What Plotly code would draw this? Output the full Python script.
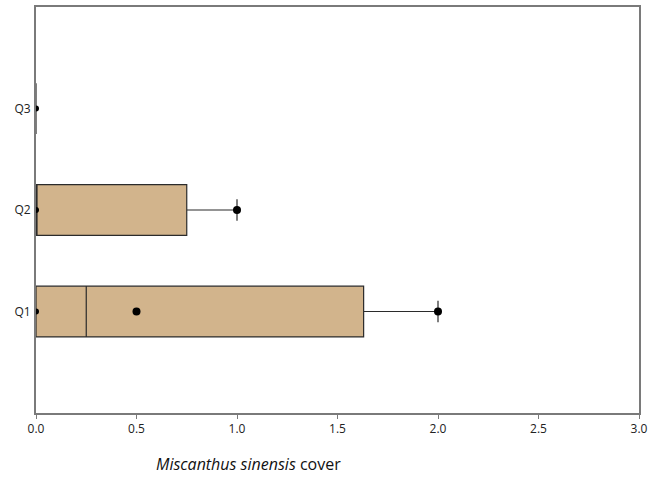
import plotly.graph_objects as go

categories = ["Q1", "Q2", "Q3"]
positions = [0, 1, 2]
q1 = [0.0, 0.0, 0.0]
median = [0.25, 0.0, 0.0]
q3 = [1.63, 0.75, 0.0]
lower = [0.0, 0.0, 0.0]
upper = [2.0, 1.0, 0.0]
mean_vals = [0.5, None, None]
x_ticks = [0.0, 0.5, 1.0, 1.5, 2.0, 2.5, 3.0]
x_ticktext = ["0.0", "0.5", "1.0", "1.5", "2.0", "2.5", "3.0"]
x_title = "<i>Miscanthus sinensis</i> cover"

fig = go.Figure()
fig.add_trace(go.Box(
    y=positions, q1=q1, median=median, q3=q3,
    lowerfence=lower, upperfence=upper,
    orientation="h", fillcolor="#D2B48C",
    line=dict(color="#2b2b2b", width=1.2),
    width=0.5, whiskerwidth=0.42, boxpoints=False, showlegend=False,
    hoverinfo="skip",
))
# min markers
fig.add_trace(go.Scatter(x=lower, y=positions, mode="markers", cliponaxis=True,
                         marker=dict(color="black", size=6), showlegend=False))
# max markers (whisker ends)
fig.add_trace(go.Scatter(x=upper[:2], y=positions[:2], mode="markers",
                         marker=dict(color="black", size=8), showlegend=False))
# mean markers
mx = [m for m in mean_vals if m is not None]
my = [p for p, m in zip(positions, mean_vals) if m is not None]
fig.add_trace(go.Scatter(x=mx, y=my, mode="markers",
                         marker=dict(color="black", size=8), showlegend=False))

fig.add_annotation(text=x_title, xref="paper", yref="paper",
                   x=0.353, y=-0.126, xanchor="center", yanchor="middle",
                   showarrow=False, font=dict(size=16, color="#111"))

fig.update_layout(
    width=651, height=483,
    margin=dict(l=36, r=12, t=7, b=70),
    paper_bgcolor="white", plot_bgcolor="white",
    font=dict(family="Open Sans, DejaVu Sans", size=12, color="#222"),
    xaxis=dict(range=[0, 3], tickvals=x_ticks, ticktext=x_ticktext,
               showgrid=False, zeroline=False, automargin=False,
               showline=True, linecolor="#7a7a7a", linewidth=2, mirror=True,
               ticks="outside", ticklen=4, tickcolor="#7a7a7a"),
    yaxis=dict(range=[-1, 3], tickvals=positions, ticktext=categories,
               showgrid=False, zeroline=False, automargin=False,
               showline=True, linecolor="#7a7a7a", linewidth=2, mirror=True,
               ticks="", ticklabelstandoff=1),
)
fig.write_html("out.html", config={"displayModeBar": False},
               post_script="document.body.style.margin='0';document.body.style.overflow='hidden';")
